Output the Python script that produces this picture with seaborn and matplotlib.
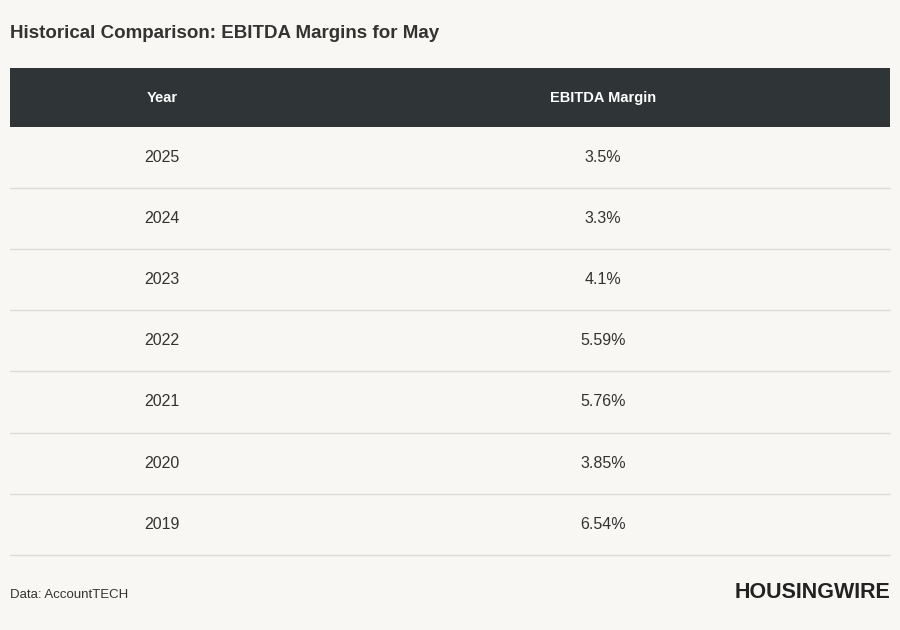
import matplotlib
matplotlib.use("Agg")
import matplotlib.pyplot as plt
import seaborn as sns
from matplotlib.patches import Rectangle

years = ["2025", "2024", "2023", "2022", "2021", "2020", "2019"]
margins = ["3.5%", "3.3%", "4.1%", "5.59%", "5.76%", "3.85%", "6.54%"]
headers = ["Year", "EBITDA Margin"]
title = "Historical Comparison: EBITDA Margins for May"
source = "Data: AccountTECH"
brand = "HOUSINGWIRE"

sns.set_theme(style="white", rc={"font.family": "Liberation Sans"})
bg = "#f8f7f3"
fig = plt.figure(figsize=(9, 6.3), dpi=100, facecolor=bg)
ax = fig.add_axes([0, 0, 1, 1])
ax.set_facecolor(bg)
ax.set_xlim(0, 900)
ax.set_ylim(630, 0)
ax.axis("off")

ax.text(10, 34, title, fontsize=13.5, fontweight="bold", color="#333333", va="center", ha="left")
ax.add_patch(Rectangle((10, 68), 880, 59, color="#2f3537", lw=0))
colx = [162, 603]
for x, h in zip(colx, headers):
    ax.text(x, 98, h, fontsize=10.5, fontweight="bold", color="white", ha="center", va="center")

top, rh = 127, 61.1
for i, (y, m) in enumerate(zip(years, margins)):
    yc = top + rh * (i + 0.5)
    ax.text(colx[0], yc, y, fontsize=11.5, color="#333333", ha="center", va="center")
    ax.text(colx[1], yc, m, fontsize=11.5, color="#333333", ha="center", va="center")
    ax.plot([10, 890], [top + rh * (i + 1)] * 2, color="#dcdcdc", lw=1)

ax.text(10, 595, source, fontsize=9.5, color="#333333", ha="left", va="center")
ax.text(890, 593, brand, fontsize=15.5, fontweight="bold", color="#222222", ha="right", va="center")

fig.savefig("out.png", dpi=100, facecolor=bg)
